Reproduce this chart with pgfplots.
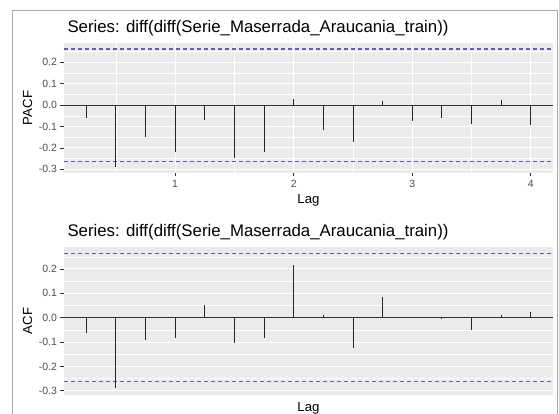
\documentclass[border=0pt]{standalone}
\usepackage{pgfplots}
\pgfplotsset{compat=1.18}
\usepackage{fontspec}
\setmainfont{Liberation Sans}
\definecolor{panelbg}{HTML}{EBEBEB}
\definecolor{ticklab}{HTML}{4D4D4D}
\definecolor{tickcol}{HTML}{333333}
\definecolor{ciblue}{RGB}{90,90,215}
\definecolor{framegray}{HTML}{AAAAAA}
\pgfplotsset{acfstyle/.style={
  scale only axis, width=489pt,
  xmin=0.0625, xmax=4.1875,
  ymin=-0.317, ymax=0.29,
  axis background/.style={fill=panelbg},
  axis line style={draw=none},
  ytick={-0.3,-0.2,-0.1,0,0.1,0.2},
  yticklabels={-0.3,-0.2,-0.1,0.0,0.1,0.2},
  minor ytick={-0.25,-0.15,-0.05,0.05,0.15,0.25},
  ymajorgrids, yminorgrids,
  major grid style={white, line width=0.9pt},
  minor grid style={white, line width=0.45pt},
  tick style={tickcol, line width=0.8pt},
  major tick length=3.5pt, minor tick length=0pt,
  tick align=outside, tick pos=left,
  /pgf/number format/assume math mode=true,
  ticklabel style={font=\fontsize{10.5}{12}\selectfont, text=ticklab},
  ylabel style={font=\fontsize{13.2}{15}\selectfont, at={(axis description cs:-0.0746,0.5)}, anchor=center},
  xlabel style={font=\fontsize{13.2}{15}\selectfont},
  clip mode=individual,
}}
\begin{document}
\begin{tikzpicture}
\path[use as bounding box] (0,0) rectangle (559pt,414pt);
\draw[framegray, line width=1pt] (12.7pt,0) -- (12.7pt,403pt) -- (557.8pt,403pt) -- (557.8pt,0);
% PACF panel
\begin{axis}[acfstyle, height=130pt, at={(64pt,241pt)}, anchor=south west,
  xtick={1,2,3,4}, xticklabels={1,2,3,4},
  minor xtick={0.5,1.5,2.5,3.5},
  xmajorgrids, xminorgrids,
  ylabel={PACF}, xlabel={Lag}]
\addplot[draw=ciblue, dash pattern=on 4pt off 3pt, line width=1.1pt] coordinates {(0.0625,0.262) (4.1875,0.262)};
\addplot[draw=ciblue, dash pattern=on 4pt off 3pt, line width=1.1pt] coordinates {(0.0625,-0.262) (4.1875,-0.262)};
\addplot[draw=tickcol, line width=0.8pt] coordinates {(0.0625,0) (4.1875,0)};
\addplot[ycomb, draw=black!85, line width=0.75pt, no marks] coordinates {
(0.25,-0.062) (0.5,-0.290) (0.75,-0.149) (1.0,-0.217) (1.25,-0.071) (1.5,-0.249) (1.75,-0.221)
(2.0,0.027) (2.25,-0.116) (2.5,-0.171) (2.75,0.021) (3.0,-0.076) (3.25,-0.059) (3.5,-0.086)
(3.75,0.025) (4.0,-0.094)};
\node[anchor=base west, font=\fontsize{16.8}{18}\selectfont, yshift=10pt] at (rel axis cs:0,1) {Series: diff(diff(Serie\_Maserrada\_Araucania\_train))};
\end{axis}
% ACF panel
\begin{axis}[acfstyle, height=148pt, at={(64pt,19pt)}, anchor=south west,
  xtick=\empty,
  ylabel={ACF}, xlabel={Lag}]
\addplot[draw=ciblue, dash pattern=on 4pt off 3pt, line width=1.1pt] coordinates {(0.0625,0.262) (4.1875,0.262)};
\addplot[draw=ciblue, dash pattern=on 4pt off 3pt, line width=1.1pt] coordinates {(0.0625,-0.262) (4.1875,-0.262)};
\addplot[draw=tickcol, line width=0.8pt] coordinates {(0.0625,0) (4.1875,0)};
\addplot[ycomb, draw=black!85, line width=0.75pt, no marks] coordinates {
(0.25,-0.062) (0.5,-0.290) (0.75,-0.093) (1.0,-0.082) (1.25,0.051) (1.5,-0.103) (1.75,-0.082)
(2.0,0.216) (2.25,0.012) (2.5,-0.125) (2.75,0.086) (3.0,0.002) (3.25,-0.002) (3.5,-0.051)
(3.75,0.012) (4.0,0.025)};
\node[anchor=base west, font=\fontsize{16.8}{18}\selectfont, yshift=10pt] at (rel axis cs:0,1) {Series: diff(diff(Serie\_Maserrada\_Araucania\_train))};
\end{axis}
\end{tikzpicture}
\end{document}
